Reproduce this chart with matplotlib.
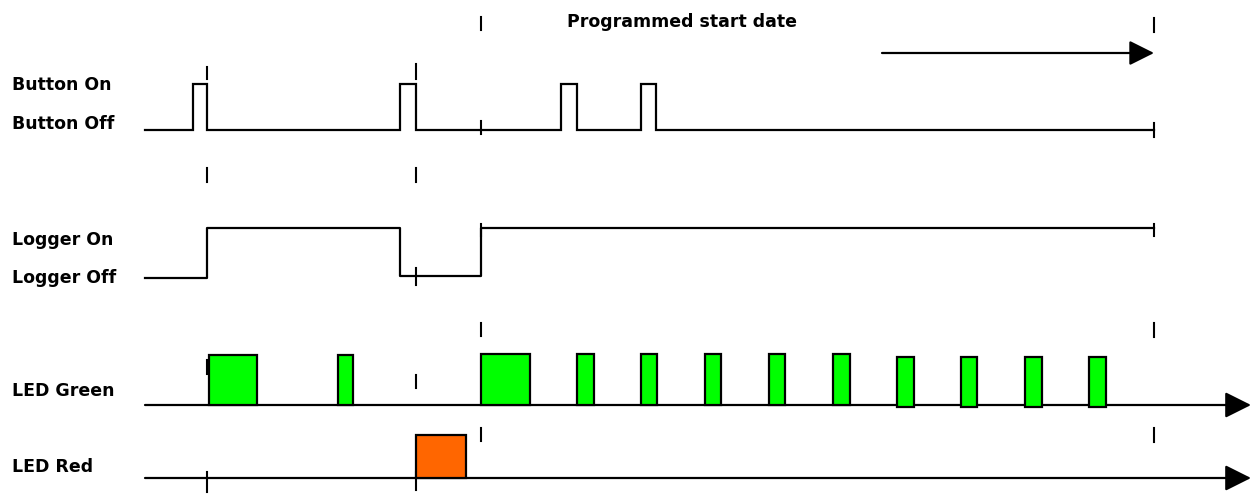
import numpy as np
import matplotlib
matplotlib.use("Agg")
import matplotlib.pyplot as plt
from matplotlib.patches import Rectangle

plt.rcParams['font.family'] = ['DejaVu Sans']

# Canvas is laid out in pixel units (x: time axis, y: downwards)
W, H = 1251, 495

# Row labels and their vertical position
row_labels = ["Button On", "Button Off", "Logger On", "Logger Off", "LED Green", "LED Red"]
row_label_y = [85, 124, 240, 278, 391, 467]

# Button trace: low level, high level and the pulse (start, end) times
button_low = 130
button_high = 84
button_start, button_end = 145, 1154
button_pulses = [(193, 207), (400, 416), (561, 577), (641, 656)]

# Logger trace: transition times and level after each transition
logger_times = [145, 207, 400, 481, 1154]
logger_levels = [278, 228, 276, 228, 228]

# LED green blinks: (start, end, top)
green_base = 405
green_blinks = [(209, 257, 355), (338, 353, 355), (481, 530, 354), (577, 594, 354),
                (641, 657, 354), (705, 721, 354), (769, 785, 354), (833, 850, 354),
                (897, 914, 357), (961, 977, 357), (1025, 1042, 357), (1089, 1106, 357)]
green_bottom_offset = [0, 0, 0, 0, 0, 0, 0, 0, 2, 2, 2, 2]

# LED red blinks
red_base = 478
red_blinks = [(416, 466, 435)]

# Event markers (dashed verticals, only short dashes visible)
marker_times = [207, 416, 481, 1154]
marker_dashes = {
    207: [(67, 79), (168, 182), (360, 374), (472, 492)],
    416: [(64, 79), (168, 182), (268, 285), (375, 388), (472, 490)],
    481: [(17, 30), (121, 134), (224, 236), (323, 336), (428, 441)],
    1154: [(18, 32), (123, 137), (224, 236), (323, 337), (428, 442)],
}

arrow_start, arrow_end, arrow_y = 882, 1154, 53
title_text = "Programmed start date"


def main():
    fig = plt.figure(figsize=(W / 100, H / 100), dpi=100)
    ax = fig.add_axes([0, 0, 1, 1])
    ax.set_xlim(0, W)
    ax.set_ylim(H, 0)
    ax.axis('off')

    lw = 1.6

    # labels
    for lab, y in zip(row_labels, row_label_y):
        ax.text(12, y, lab, fontsize=12.5, fontweight='bold', va='center', ha='left')

    # button trace
    bx = [button_start]
    by = [button_low]
    for s, e in button_pulses:
        bx += [s, s, e, e]
        by += [button_low, button_high, button_high, button_low]
    bx.append(button_end)
    by.append(button_low)
    ax.plot(bx, by, color='black', lw=lw, solid_joinstyle='miter')

    # logger trace
    ax.step(logger_times, logger_levels, where='post', color='black', lw=lw)

    # marker dashes
    for t in marker_times:
        for y0, y1 in marker_dashes[t]:
            ax.plot([t, t], [y0, y1], color='black', lw=1.5)

    # LED baselines with arrows
    for base in (green_base, red_base):
        ax.annotate('', xy=(W, base), xytext=(145, base),
                    arrowprops=dict(arrowstyle='-|>,head_length=0.4,head_width=0.2',
                                    mutation_scale=40, lw=lw, color='black',
                                    shrinkA=0, shrinkB=0))

    # green blinks
    for (s, e, top), off in zip(green_blinks, green_bottom_offset):
        ax.add_patch(Rectangle((s, top), e - s, green_base + off - top,
                               facecolor='#00ff00', edgecolor='black', lw=lw, zorder=3))

    # red blinks
    for s, e, top in red_blinks:
        ax.add_patch(Rectangle((s, top), e - s, red_base - top,
                               facecolor='#ff6600', edgecolor='black', lw=lw, zorder=3))

    # programmed start arrow and title
    ax.annotate('', xy=(arrow_end, arrow_y), xytext=(arrow_start, arrow_y),
                arrowprops=dict(arrowstyle='-|>,head_length=0.4,head_width=0.2',
                                mutation_scale=38, lw=lw, color='black',
                                shrinkA=0, shrinkB=0))
    ax.text(682, 22, title_text, fontsize=12.5, fontweight='bold', ha='center', va='center')

    fig.savefig('out.png', dpi=100)
    plt.close(fig)


if __name__ == "__main__":
    main()
